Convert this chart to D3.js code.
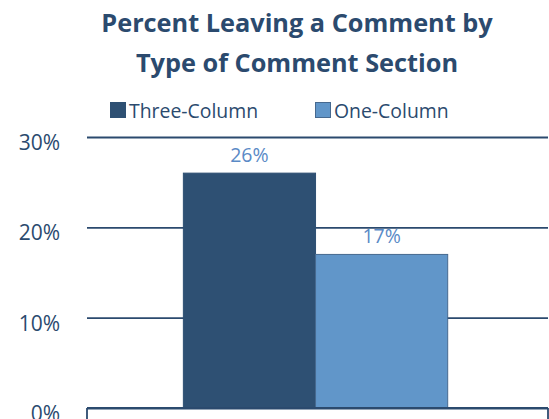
<!DOCTYPE html>
<html>
<head>
<meta charset="utf-8">
<script src="https://cdn.jsdelivr.net/npm/d3@7"></script>
<style>
  html, body { margin: 0; padding: 0; background: #fff; }
  svg { display: block; font-family: 'Open Sans', sans-serif; }
</style>
</head>
<body>
<div id="chart"></div>
<script>
// data
const categories = ['Comment Section']
const seriesNames = ['Three-Column', 'One-Column']
const seriesValues = [[0.26], [0.17]]
const yTicks = [0, 0.1, 0.2, 0.3]
const titleLines = ['Percent Leaving a Comment by', 'Type of Comment Section']

const width = 549
const height = 419
const margin = { top: 137, right: 1, bottom: 11, left: 87 }

const colors = ['#2e5073', '#6196c9']
const strokes = ['#2e5073', '#46698f']
const navy = '#2b4a6e'

const svg = d3
  .select('#chart')
  .append('svg')
  .attr('width', width)
  .attr('height', height)

const x0 = d3
  .scaleBand()
  .domain(categories)
  .range([margin.left, width - margin.right])
  .paddingInner(0)
  .paddingOuter(0.372)
  .align(0.49)

const x1 = d3
  .scaleBand()
  .domain(seriesNames)
  .range([0, x0.bandwidth()])

const y = d3
  .scaleLinear()
  .domain([0, 0.3])
  .range([height - margin.bottom, margin.top])

// title
svg
  .append('g')
  .selectAll('text')
  .data(titleLines)
  .enter()
  .append('text')
  .attr('x', 297)
  .attr('y', (d, i) => 32 + i * 40)
  .attr('text-anchor', 'middle')
  .attr('font-size', 25.3)
  .attr('font-weight', 'bold')
  .attr('fill', navy)
  .text(d => d)

// legend
const legendX = [110, 315]
const legend = svg.append('g')
legend
  .selectAll('.legend-entry')
  .data(seriesNames)
  .enter()
  .append('g')
  .attr('class', 'legend-entry')
  .attr('transform', (d, i) => `translate(${legendX[i]},102)`)
  .each(function(d, i) {
    const g = d3.select(this)
    g.append('rect')
      .attr('x', 0.5)
      .attr('y', 0.5)
      .attr('width', 15)
      .attr('height', 15)
      .attr('fill', colors[i])
      .attr('stroke', strokes[i])
    g.append('text')
      .attr('x', 19)
      .attr('y', 16)
      .attr('font-size', 19.4)
      .attr('fill', navy)
      .text(d)
  })

// gridlines + y labels
const yAxis = d3
  .axisLeft(y)
  .tickValues(yTicks)
  .tickSize(-(width - margin.left - margin.right))
  .tickPadding(27)
  .tickFormat(d3.format('.0%'))

const yG = svg
  .append('g')
  .attr('transform', `translate(${margin.left},0)`)
  .call(yAxis)

yG.select('.domain').remove()
yG.selectAll('.tick line')
  .attr('stroke', navy)
  .attr('stroke-width', 1.8)
yG.selectAll('.tick text')
  .attr('font-size', 21)
  .attr('font-family', 'Open Sans, sans-serif')
  .attr('fill', navy)
  .attr('dy', '0.6em')

// category boundary ticks
svg
  .append('g')
  .selectAll('line')
  .data([x0.range()[0], x0.range()[1]])
  .enter()
  .append('line')
  .attr('x1', d => d)
  .attr('x2', d => d)
  .attr('y1', y(0))
  .attr('y2', height)
  .attr('stroke', navy)
  .attr('stroke-width', 1.8)

// bars
const groups = svg
  .append('g')
  .selectAll('g')
  .data(categories)
  .enter()
  .append('g')
  .attr('transform', d => `translate(${x0(d)},0)`)

groups
  .selectAll('rect')
  .data((d, ci) => seriesNames.map((s, si) => ({ s, si, v: seriesValues[si][ci] })))
  .enter()
  .append('rect')
  .attr('x', d => x1(d.s))
  .attr('y', d => y(d.v))
  .attr('width', x1.bandwidth())
  .attr('height', d => y(0) - y(d.v))
  .attr('fill', d => colors[d.si])
  .attr('stroke', d => strokes[d.si])
  .attr('stroke-width', 1)

groups
  .selectAll('.value-label')
  .data((d, ci) => seriesNames.map((s, si) => ({ s, si, v: seriesValues[si][ci] })))
  .enter()
  .append('text')
  .attr('class', 'value-label')
  .attr('x', d => x1(d.s) + x1.bandwidth() / 2)
  .attr('y', d => y(d.v) - 11)
  .attr('text-anchor', 'middle')
  .attr('font-size', 19.5)
  .attr('fill', '#5a8ac6')
  .text(d => d3.format('.0%')(d.v))

// bottom baseline
svg
  .append('line')
  .attr('x1', margin.left)
  .attr('x2', width - margin.right)
  .attr('y1', y(0))
  .attr('y2', y(0))
  .attr('stroke', navy)
  .attr('stroke-width', 1.8)
</script>
</body>
</html>
